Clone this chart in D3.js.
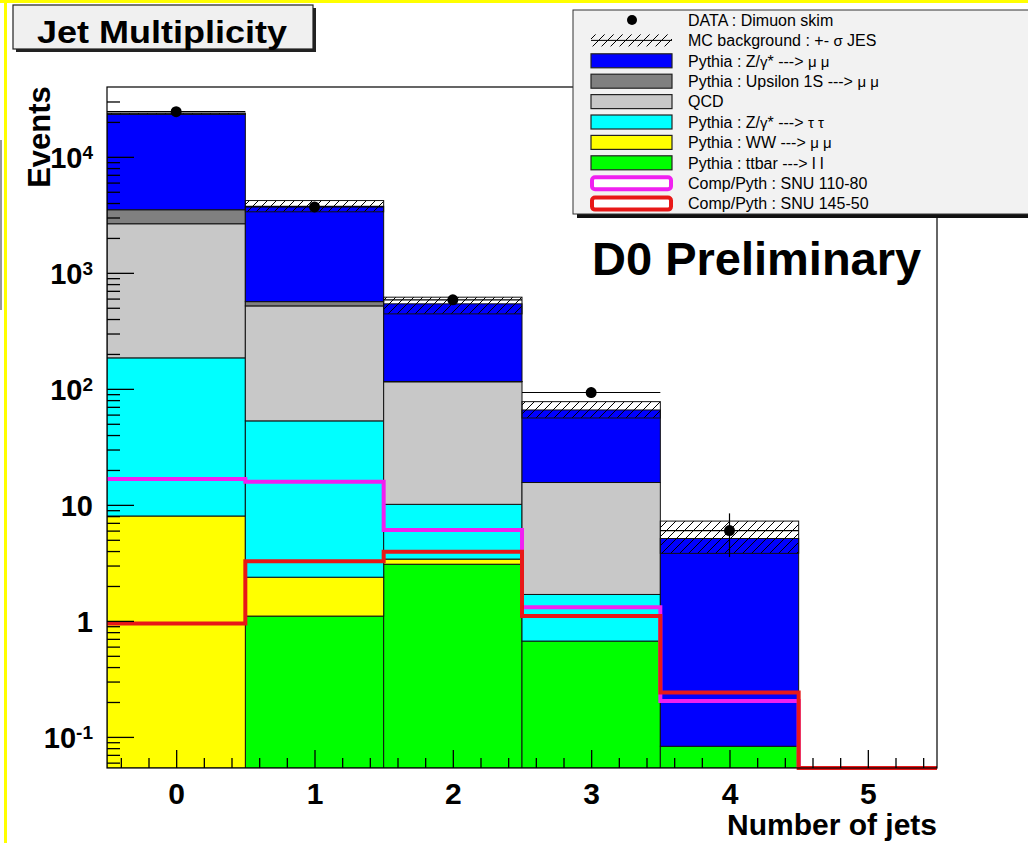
<!DOCTYPE html>
<head>
  <title>Jet Multiplicity</title>
  <script src="https://d3js.org/d3.v7.min.js"></script>
  <style>
    body { margin: 0; background: #fff; }
    svg { font-family: "Liberation Sans", Arial, Helvetica, sans-serif; }
    .axis path { display: none; }
    .axis line { stroke: #000; stroke-width: 1.3; }
    .axis text { font-weight: bold; fill: #000; }
    .leg text { font-size: 16px; fill: #000; }
  </style>
</head>
<body>
  <svg width="1028" height="843"></svg>
  <script>
    // jet bins and stacked MC components (bottom -> top)
    const bins      = [0, 1, 2, 3, 4, 5];
    const ttbar     = [0.02, 1.10, 3.08, 0.67, 0.083, 0];
    const ww        = [8.0, 1.28, 0.33, 0, 0, 0];
    const ztautau   = [177, 50.6, 6.7, 1.02, 0, 0];
    const qcd       = [2465, 466, 105, 13.9, 0, 0];
    const upsilon   = [850, 46, 0.6, 0, 0, 0];
    const zmumu     = [20000, 3185, 425, 50.2, 5.05, 0];
    // data and systematic band
    const dataCounts = [24500, 3700, 585, 93, 6, 0];
    const jesUp      = [23800, 4200, 617, 77.6, 7.25, 0];
    const jesDown    = [23200, 3360, 443, 56.1, 3.82, 0];
    // signal overlays
    const snu110 = [16.7, 15.8, 6.06, 1.31, 0.204, 0];
    const snu145 = [0.95, 3.27, 3.94, 1.10, 0.241, 0];
    const yTicks = [0.1, 1, 10, 100, 1000, 10000];
    const yTickLabels = [["10", "-1"], ["1", ""], ["10", ""], ["10", "2"], ["10", "3"], ["10", "4"]];

    const keys   = ["ttbar", "ww", "ztautau", "qcd", "upsilon", "zmumu"];
    const colors = {ttbar: "#00ff00", ww: "#ffff00", ztautau: "#00ffff",
                    qcd: "#c8c8c8", upsilon: "#808080", zmumu: "#0000ff"};
    const series = {ttbar, ww, ztautau, qcd, upsilon, zmumu};
    const table = bins.map((b, i) => {
      const row = {bin: b};
      keys.forEach(k => row[k] = series[k][i]);
      return row;
    });

    const svg = d3.select("svg");
    const pLeft = 107, pRight = 937, pTop = 87, pBottom = 768;
    const yMin = Math.pow(10, -1.268), yMax = Math.pow(10, 4.602);

    const x = d3.scaleLinear().domain([-0.5, 5.5]).range([pLeft, pRight]);
    const y = d3.scaleLog().domain([yMin, yMax]).range([pBottom, pTop]).clamp(true);
    const yc = v => y(Math.max(v, yMin));

    // frame yellow border
    svg.append("rect").attr("x", 0).attr("y", 0).attr("width", 1028).attr("height", 3).attr("fill", "#ffff00");
    svg.append("rect").attr("x", 4).attr("y", 0).attr("width", 3).attr("height", 843).attr("fill", "#ffff00");
    svg.append("rect").attr("x", 0).attr("y", 140).attr("width", 2).attr("height", 170).attr("fill", "#999");

    const defs = svg.append("defs");
    defs.append("pattern").attr("id", "hatch").attr("patternUnits", "userSpaceOnUse")
      .attr("width", 9).attr("height", 9)
      .append("path").attr("d", "M-1,1 L1,-1 M0,9 L9,0 M8,10 L10,8")
      .attr("stroke", "#000").attr("stroke-width", 1);
    defs.append("clipPath").attr("id", "plotclip").append("rect")
      .attr("x", pLeft).attr("y", pTop).attr("width", pRight - pLeft).attr("height", pBottom - pTop);

    const plot = svg.append("g").attr("clip-path", "url(#plotclip)");

    // stacked histograms
    const stacked = d3.stack().keys(keys)(table);
    const binW = x(0.5) - x(-0.5);
    stacked.forEach(layer => {
      plot.append("g").selectAll("rect")
        .data(layer.filter(d => d[1] > yMin && d[1] > d[0]))
        .join("rect")
        .attr("x", d => x(d.data.bin - 0.5))
        .attr("width", binW)
        .attr("y", d => yc(d[1]))
        .attr("height", d => yc(d[0]) - yc(d[1]))
        .attr("fill", colors[layer.key])
        .attr("stroke", "#111")
        .attr("stroke-width", 1);
    });

    // JES band
    plot.append("g").selectAll("rect")
      .data(bins.filter((b, i) => jesUp[i] > 0))
      .join("rect")
      .attr("x", b => x(b - 0.5))
      .attr("width", binW)
      .attr("y", b => yc(jesUp[b]))
      .attr("height", b => yc(jesDown[b]) - yc(jesUp[b]))
      .attr("fill", "url(#hatch)")
      .attr("stroke", "#111")
      .attr("stroke-width", 1);

    // step lines for signal overlays
    const stepLine = d3.line().x(d => x(d[0])).y(d => yc(d[1])).curve(d3.curveStepAfter);
    function stepData(vals) {
      const pts = bins.map((b, i) => [b - 0.5, vals[i]]);
      pts.push([5.5, vals[vals.length - 1]]);
      return pts;
    }
    plot.append("path").datum(stepData(snu110)).attr("d", stepLine)
      .attr("fill", "none").attr("stroke", "#f020f0").attr("stroke-width", 4);
    svg.append("path").datum(stepData(snu145)).attr("d", stepLine)
      .attr("fill", "none").attr("stroke", "#e81818").attr("stroke-width", 4);

    // data points with errors
    const dataG = plot.append("g");
    bins.forEach((b, i) => {
      const n = dataCounts[i];
      if (n <= 0) return;
      const e = Math.sqrt(n);
      dataG.append("line").attr("x1", x(b - 0.5)).attr("x2", x(b + 0.5))
        .attr("y1", yc(n)).attr("y2", yc(n)).attr("stroke", "#000").attr("stroke-width", 1.2);
      dataG.append("line").attr("x1", x(b)).attr("x2", x(b))
        .attr("y1", yc(n + e)).attr("y2", yc(n - e)).attr("stroke", "#000").attr("stroke-width", 1.2);
      dataG.append("circle").attr("cx", x(b)).attr("cy", yc(n)).attr("r", 5.5).attr("fill", "#000");
    });

    // frame
    svg.append("rect").attr("x", pLeft).attr("y", pTop).attr("width", pRight - pLeft)
      .attr("height", pBottom - pTop).attr("fill", "none").attr("stroke", "#000").attr("stroke-width", 1.2);

    // x axis: major + minor ticks pointing up
    const xMinor = d3.range(-0.4, 5.41, 0.2).map(v => Math.round(v * 10) / 10)
      .filter(v => Math.abs(v - Math.round(v)) > 0.01);
    svg.append("g").attr("class", "axis").attr("transform", `translate(0,${pBottom})`)
      .call(d3.axisBottom(x).tickValues(xMinor).tickSize(-10).tickFormat(""));
    const xAx = svg.append("g").attr("class", "axis").attr("transform", `translate(0,${pBottom})`)
      .call(d3.axisBottom(x).tickValues(bins).tickSize(-18).tickPadding(15).tickFormat(d3.format("d")));
    xAx.selectAll("text").style("font-size", "30px");

    // y axis: minor + major ticks pointing right
    const yMinor = [];
    for (let e = -2; e <= 4; e++) for (let m = 2; m <= 9; m++) {
      const v = m * Math.pow(10, e);
      if (v >= yMin && v <= yMax) yMinor.push(v);
    }
    svg.append("g").attr("class", "axis").attr("transform", `translate(${pLeft},0)`)
      .call(d3.axisLeft(y).tickValues(yMinor).tickSize(-13).tickFormat(""));
    const yAx = svg.append("g").attr("class", "axis").attr("transform", `translate(${pLeft},0)`)
      .call(d3.axisLeft(y).tickValues(yTicks).tickSize(-27).tickPadding(14).tickFormat(""));
    yAx.selectAll(".tick").each(function(d, i) {
      const lab = yTickLabels[i];
      const t = d3.select(this).append("text").attr("x", -14).attr("dy", "0.36em")
        .attr("text-anchor", "end").style("font-size", "29px");
      t.append("tspan").text(lab[0]);
      if (lab[1]) t.append("tspan").attr("dy", "-0.45em").style("font-size", "19px").text(lab[1]);
    });

    // axis titles
    svg.append("text").attr("transform", "translate(50,137) rotate(-90)")
      .attr("text-anchor", "middle").style("font-weight", "bold").style("font-size", "31px").text("Events");
    svg.append("text").attr("x", pRight).attr("y", 835).attr("text-anchor", "end")
      .style("font-weight", "bold").style("font-size", "30px").text("Number of jets");

    // title box
    svg.append("rect").attr("x", 16).attr("y", 8).attr("width", 300).attr("height", 44).attr("fill", "#222");
    svg.append("rect").attr("x", 13).attr("y", 5).attr("width", 300).attr("height", 44)
      .attr("fill", "#f0f0f0").attr("stroke", "#222").attr("stroke-width", 1.2);
    svg.append("text").attr("x", 37).attr("y", 43)
      .attr("textLength", 250).attr("lengthAdjust", "spacingAndGlyphs")
      .style("font-weight", "bold").style("font-size", "31px").text("Jet Multiplicity");

    svg.append("text").attr("x", 592).attr("y", 275)
      .style("font-weight", "bold").style("font-size", "47px").text("D0 Preliminary");

    // legend
    const leg = svg.append("g").attr("class", "leg");
    leg.append("rect").attr("x", 577).attr("y", 14).attr("width", 460).attr("height", 204).attr("fill", "#111");
    leg.append("rect").attr("x", 573).attr("y", 10).attr("width", 460).attr("height", 204)
      .attr("fill", "#f2f2f2").attr("stroke", "#333").attr("stroke-width", 1);

    const legendEntries = [
      {type: "dot",  text: ["DATA : Dimuon skim"]},
      {type: "band", text: ["MC background : +- ", ["σ"], " JES"]},
      {type: "box",  fill: colors.zmumu,   text: ["Pythia : Z/", ["γ"], "* ---> ", ["μ μ"]]},
      {type: "box",  fill: colors.upsilon, text: ["Pythia : Upsilon 1S ---> ", ["μ μ"]]},
      {type: "box",  fill: colors.qcd,     text: ["QCD"]},
      {type: "box",  fill: colors.ztautau, text: ["Pythia : Z/", ["γ"], "* ---> ", ["τ τ"]]},
      {type: "box",  fill: colors.ww,      text: ["Pythia : WW ---> ", ["μ μ"]]},
      {type: "box",  fill: colors.ttbar,   text: ["Pythia : ttbar ---> l l"]},
      {type: "line", stroke: "#f020f0",    text: ["Comp/Pyth : SNU 110-80"]},
      {type: "line", stroke: "#e81818",    text: ["Comp/Pyth : SNU 145-50"]}
    ];
    legendEntries.forEach((e, i) => {
      const cy = 20 + i * 20.4;
      if (e.type === "dot") {
        leg.append("circle").attr("cx", 632).attr("cy", cy).attr("r", 5).attr("fill", "#000");
      } else if (e.type === "band") {
        leg.append("rect").attr("x", 591).attr("y", cy - 6).attr("width", 81).attr("height", 12)
          .attr("fill", "url(#hatch)");
        leg.append("line").attr("x1", 591).attr("x2", 672).attr("y1", cy).attr("y2", cy)
          .attr("stroke", "#000").attr("stroke-width", 1);
      } else if (e.type === "box") {
        leg.append("rect").attr("x", 591).attr("y", cy - 7).attr("width", 81).attr("height", 14)
          .attr("fill", e.fill).attr("stroke", "#222").attr("stroke-width", 1.2);
      } else {
        leg.append("rect").attr("x", 592).attr("y", cy - 6).attr("width", 79).attr("height", 12)
          .attr("rx", 3).attr("fill", "#fff").attr("stroke", e.stroke).attr("stroke-width", 4);
      }
      const t = leg.append("text").attr("x", 688).attr("y", cy).attr("dy", "0.36em");
      e.text.forEach(part => {
        if (Array.isArray(part)) t.append("tspan").style("font-size", "15px").text(part[0]);
        else t.append("tspan").text(part);
      });
    });
  </script>
</body>
